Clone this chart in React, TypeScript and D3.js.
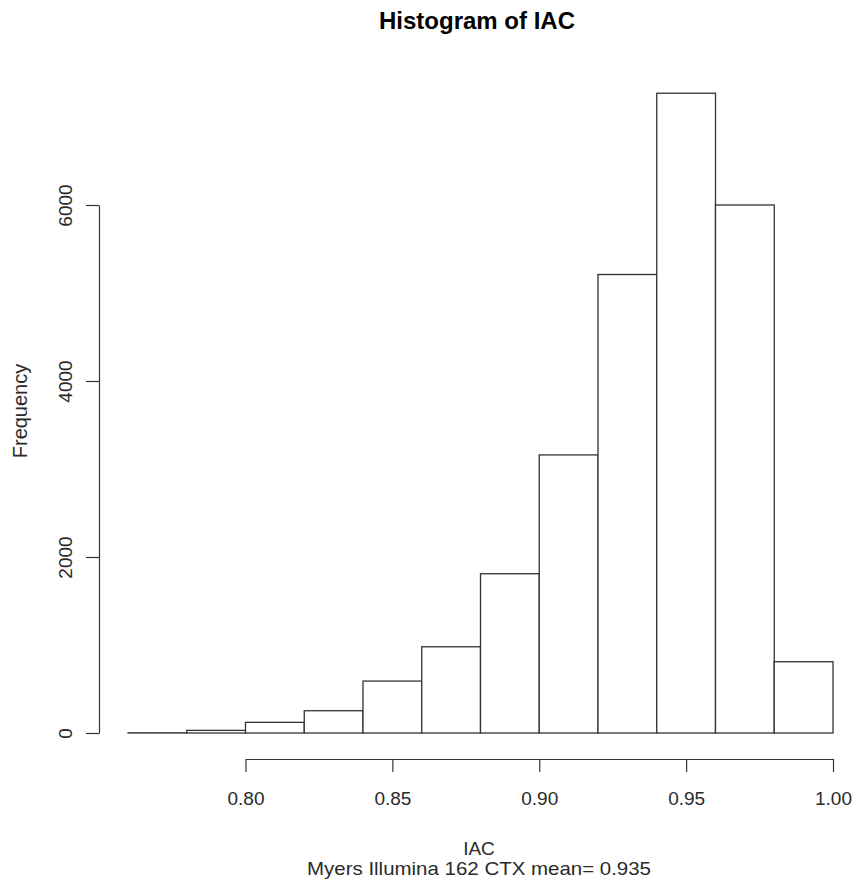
import { useEffect, useRef } from 'react';
import * as d3 from 'd3';

// histogram bins of IAC (left edges, bin width 0.02)
const binStarts = [0.76, 0.78, 0.8, 0.82, 0.84, 0.86, 0.88, 0.9, 0.92, 0.94, 0.96, 0.98];
const counts = [2, 30, 121, 253, 590, 980, 1810, 3160, 5210, 7270, 6000, 810];
const xTicks = [0.8, 0.85, 0.9, 0.95, 1.0];
const yTicks = [0, 2000, 4000, 6000];

const binWidth = 0.02;

export default function App() {
  const svgRef = useRef<SVGSVGElement | null>(null);

  useEffect(() => {
    if (!svgRef.current) return;
    const svg = d3.select(svgRef.current);
    svg.selectAll('*').remove();

    const font = 'Liberation Sans, Arial, sans-serif';
    const ink = '#333';
    const textInk = '#2a2a2a';

    const x = d3.scaleLinear().domain([0.76, 1.0]).range([128, 833]);
    const y = d3.scaleLinear().domain([0, 6000]).range([733, 205]);

    // bars
    svg.append('g')
      .selectAll('rect')
      .data(binStarts.map((b, i) => ({ x0: b, x1: b + binWidth, n: counts[i] })))
      .enter()
      .append('rect')
      .attr('x', d => x(d.x0))
      .attr('y', d => y(d.n))
      .attr('width', d => x(d.x1) - x(d.x0))
      .attr('height', d => y(0) - y(d.n))
      .attr('fill', 'white')
      .attr('stroke', ink)
      .attr('stroke-width', 1.3);

    // x axis, from first to last tick like R
    const xAxisScale = x.copy().domain([0.8, 1.0]).range([x(0.8), x(1.0)]);
    const gx = svg.append('g')
      .attr('transform', 'translate(0,759)')
      .call(d3.axisBottom(xAxisScale).tickValues(xTicks).tickFormat(d3.format('.2f')).tickSize(13).tickSizeOuter(0));
    gx.selectAll('path,line').attr('stroke', ink).attr('stroke-width', 1.2);
    gx.selectAll('text')
      .attr('y', 46)
      .attr('dy', null)
      .attr('fill', textInk)
      .style('font-family', font)
      .style('font-size', '19px');

    // y axis at left edge of plot region, labels turned like R
    const gy = svg.append('g')
      .attr('transform', 'translate(99,0)')
      .call(d3.axisLeft(y).tickValues(yTicks).tickFormat(d3.format('d')).tickSize(13).tickSizeOuter(0));
    gy.selectAll('path,line').attr('stroke', ink).attr('stroke-width', 1.2);
    gy.selectAll('text')
      .attr('x', null)
      .attr('dy', null)
      .attr('transform', 'translate(-27,0) rotate(-90)')
      .attr('text-anchor', 'middle')
      .attr('fill', textInk)
      .style('font-family', font)
      .style('font-size', '19px');

    // title
    svg.append('text')
      .attr('x', 477)
      .attr('y', 29)
      .attr('text-anchor', 'middle')
      .style('font-family', font)
      .style('font-size', '24px')
      .style('font-weight', 'bold')
      .text('Histogram of IAC');

    // axis labels
    svg.append('text')
      .attr('x', 479)
      .attr('y', 855)
      .attr('text-anchor', 'middle')
      .style('font-family', font)
      .style('font-size', '19px')
      .attr('fill', textInk)
      .text('IAC');

    svg.append('text')
      .attr('x', 479)
      .attr('y', 875)
      .attr('text-anchor', 'middle')
      .attr('textLength', 344)
      .attr('lengthAdjust', 'spacingAndGlyphs')
      .style('font-family', font)
      .style('font-size', '19px')
      .attr('fill', textInk)
      .text('Myers Illumina 162 CTX mean= 0.935');

    svg.append('text')
      .attr('transform', 'translate(27,411) rotate(-90)')
      .attr('text-anchor', 'middle')
      .style('font-family', font)
      .style('font-size', '20px')
      .attr('fill', textInk)
      .text('Frequency');
  }, []);

  return (
    <svg
      ref={svgRef}
      width={857}
      height={882}
      style={{ position: 'absolute', left: 0, top: 0, background: 'white' }}
    />
  );
}
